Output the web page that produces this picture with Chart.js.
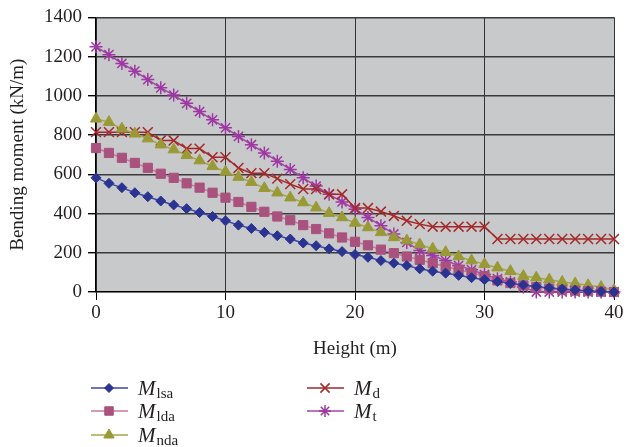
<!DOCTYPE html>
<html lang="en">
<head>
  <meta charset="UTF-8" />
  <title>Bending moment against height</title>
  <script src="https://cdn.jsdelivr.net/npm/chart.js"></script>
  <style>
    * { box-sizing: border-box; }
    body { margin: 0; background: #fff; }
  </style>
</head>
<body>
  <canvas id="momentChart" width="626" height="447"></canvas>

  <script>
    // height along the structure (m)
    const heights = [0, 1, 2, 3, 4, 5, 6, 7, 8, 9, 10, 11, 12, 13, 14, 15, 16, 17, 18, 19, 20,
                     21, 22, 23, 24, 25, 26, 27, 28, 29, 30, 31, 32, 33, 34, 35, 36, 37, 38, 39, 40];

    // bending moments (kN/m)
    const mLsa = [582, 554, 532, 506, 486, 464, 444, 425, 405, 385, 363, 341, 324, 304, 287, 270, 250, 236, 220, 206, 191,
                  177, 160, 147, 135, 118, 106, 96, 85, 73, 63, 53, 44, 36, 28, 21, 15, 10, 6, 3, 0];
    const mLda = [734, 709, 684, 658, 633, 603, 582, 554, 532, 506, 481, 459, 434, 409, 385, 366, 341, 321, 299, 278, 256,
                  238, 216, 198, 181, 164, 147, 130, 113, 98, 81, 59, 46, 34, 25, 17, 10, 7, 4, 2, 0];
    const mNda = [883, 866, 832, 807, 782, 751, 726, 697, 670, 641, 613, 586, 560, 529, 506, 481, 456, 430, 402, 380, 352,
                  329, 304, 278, 262, 242, 220, 203, 181, 160, 142, 124, 106, 81, 73, 63, 51, 43, 34, 25, 9];
    const mD   = [815, 815, 815, 815, 815, 772, 772, 731, 731, 687, 687, 632, 606, 606, 578, 550, 525, 525, 498, 498, 428,
                  428, 410, 388, 363, 346, 333, 333, 333, 333, 333, 270, 270, 270, 270, 270, 270, 270, 270, 270, 270];
    const mT   = [1250, 1210, 1165, 1126, 1083, 1041, 1004, 962, 920, 878, 837, 793, 751, 709, 667, 625, 582, 540, 498, 459, 422,
                  380, 338, 296, 253, 211, 186, 160, 135, 113, 89, 68, 51, 25, 0, 0, 0, 0, 0, 0, 0];

    const seriesNames = ['lsa', 'lda', 'nda', 'd', 't'];   // subscripts of M
    const xTicks = [0, 10, 20, 30, 40];
    const yTicks = [0, 200, 400, 600, 800, 1000, 1200, 1400];

    const FONT = "'Liberation Serif', 'DejaVu Serif', serif";
    const TEXT = '#231f20';

    const toPoints = vals => vals.map((v, i) => ({ x: heights[i], y: v }));

    const styles = [
      { line: '#4046aa', mark: '#2b3391', shape: 'rectRot', r: 5 },
      { line: '#c6789f', mark: '#a9527e', shape: 'rect', r: 6.5 },
      { line: '#a6a649', mark: '#999935', shape: 'triangle', r: 6.5 },
      { line: '#a2282a', mark: '#a52a2a', shape: 'crossRot', r: 7 },
      { line: '#a445aa', mark: '#9e38a2', shape: 'star', r: 6.5 }
    ];
    const seriesData = [mLsa, mLda, mNda, mD, mT];

    const datasets = seriesData.map((vals, i) => {
      const s = styles[i];
      return {
        label: 'M' + seriesNames[i],
        data: toPoints(vals),
        borderColor: s.line,
        borderWidth: 1.5,
        pointStyle: s.shape,
        pointRadius: s.r,
        pointBackgroundColor: s.mark,
        pointBorderColor: s.mark,
        pointBorderWidth: (s.shape === 'crossRot' || s.shape === 'star') ? 1.5 : 1,
        tension: 0,
        clip: false
      };
    });

    // grey plot background
    const plotBg = {
      id: 'plotBg',
      beforeDraw(chart) {
        const { ctx, chartArea: a } = chart;
        ctx.save();
        ctx.fillStyle = '#c8c9cb';
        ctx.fillRect(a.left, a.top, a.right - a.left, a.bottom - a.top);
        ctx.restore();
      }
    };

    // legend with subscripts, laid out in two columns under the axis title
    const legendSlots = [
      { x: 91, y: 388 }, { x: 91, y: 411 }, { x: 91, y: 435 },
      { x: 307, y: 388 }, { x: 307, y: 411 }
    ];
    const subLegend = {
      id: 'subLegend',
      afterDraw(chart) {
        const ctx = chart.ctx;
        chart.data.datasets.forEach((ds, i) => {
          const p = legendSlots[i];
          const s = styles[i];
          ctx.save();
          ctx.strokeStyle = s.line;
          ctx.lineWidth = 1.5;
          ctx.beginPath();
          ctx.moveTo(p.x, p.y);
          ctx.lineTo(p.x + 37, p.y);
          ctx.stroke();
          ctx.fillStyle = s.mark;
          ctx.strokeStyle = s.mark;
          ctx.lineWidth = ds.pointBorderWidth;
          Chart.helpers.drawPoint(ctx, { pointStyle: s.shape, radius: s.r - 0.5, rotation: 0, borderWidth: ds.pointBorderWidth }, p.x + 18, p.y);

          ctx.fillStyle = TEXT;
          ctx.textBaseline = 'alphabetic';
          ctx.font = 'italic 21px ' + FONT;
          ctx.fillText('M', p.x + 47, p.y + 7);
          const w = ctx.measureText('M').width;
          ctx.font = '15px ' + FONT;
          ctx.fillText(seriesNames[i], p.x + 48 + w, p.y + 10);
          ctx.restore();
        });
      }
    };

    new Chart(document.getElementById('momentChart'), {
      type: 'line',
      data: { datasets },
      plugins: [plotBg, subLegend],
      options: {
        responsive: false,
        animation: false,
        layout: { padding: { left: 0, right: 12, top: 15, bottom: 85 } },
        plugins: { legend: { display: false }, tooltip: { enabled: false } },
        scales: {
          x: {
            type: 'linear',
            min: 0,
            max: 40,
            afterBuildTicks: axis => { axis.ticks = xTicks.map(v => ({ value: v })); },
            afterFit: scale => { scale.height = 70; },
            ticks: { font: { family: FONT, size: 19 }, color: TEXT, padding: 2, maxRotation: 0, callback: v => String(v) },
            grid: { color: '#333', lineWidth: 1, tickLength: 8, tickColor: '#000' },
            border: { color: '#000', width: 1.2 },
            title: { display: true, text: 'Height (m)', font: { family: FONT, size: 19 }, color: TEXT, padding: { top: 0, bottom: 2 } }
          },
          y: {
            min: 0,
            max: 1400,
            afterBuildTicks: axis => { axis.ticks = yTicks.map(v => ({ value: v })); },
            afterFit: scale => { scale.width = 96; },
            ticks: { font: { family: FONT, size: 19 }, color: TEXT, padding: 6, callback: v => String(v) },
            grid: { color: '#3a3a3a', lineWidth: 1.4, tickLength: 8, tickColor: '#000' },
            border: { color: '#000', width: 1.2 },
            title: { display: true, text: 'Bending moment (kN/m)', font: { family: FONT, size: 19 }, color: TEXT, padding: { top: 7, bottom: 0 } }
          }
        }
      }
    });
  </script>
</body>
</html>
